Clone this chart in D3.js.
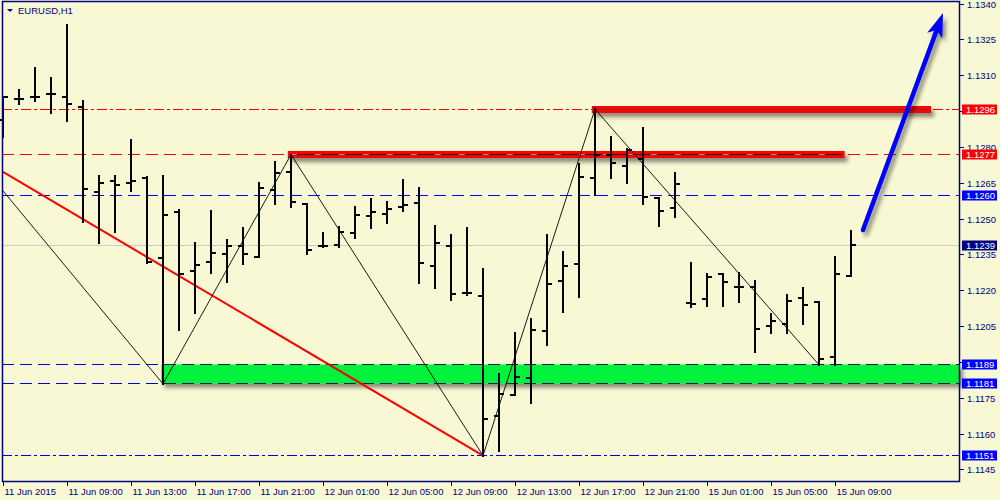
<!DOCTYPE html>
<html><head><meta charset="utf-8">
<script src="https://cdn.jsdelivr.net/npm/d3@7"></script>
<style>html,body{margin:0;padding:0;background:#f8f8d4;} svg{display:block}</style>
</head><body>
<svg id="c" width="1000" height="500"></svg>
<script>
// ---------- DATA ----------
const symbol = "EURUSD,H1";
const open  = [1.12915,1.13003,1.13011,1.13023,1.13011,1.12969,1.12613,1.12659,1.12651,1.12672,1.12337,1.12530,1.12283,1.12321,1.12354,1.12387,1.12341,1.12622,1.12697,1.12563,1.12387,1.12392,1.12442,1.12513,1.12521,1.12551,1.12567,1.12304,1.12387,1.12191,1.12178,1.11676,1.11764,1.11835,1.12032,1.12241,1.12312,1.12672,1.12768,1.12722,1.12751,1.12588,1.12546,1.12149,1.12166,1.12270,1.12216,1.12216,1.12053,1.12061,1.12170,1.12153,1.11923,1.12262];
const high  = [1.13011,1.13040,1.13132,1.13090,1.13312,1.12994,1.12680,1.12680,1.12831,1.12676,1.12680,1.12538,1.12400,1.12534,1.12413,1.12463,1.12651,1.12739,1.12770,1.12563,1.12442,1.12467,1.12551,1.12584,1.12572,1.12664,1.12630,1.12471,1.12433,1.12463,1.12291,1.11852,1.12023,1.12082,1.12433,1.12362,1.12731,1.12960,1.12844,1.12793,1.12881,1.12588,1.12693,1.12316,1.12270,1.12270,1.12274,1.12241,1.12103,1.12182,1.12212,1.12153,1.12341,1.12450];
const low   = [1.12844,1.12982,1.12994,1.12944,1.12910,1.12488,1.12400,1.12446,1.12618,1.12316,1.11810,1.12036,1.12107,1.12274,1.12237,1.12312,1.12341,1.12563,1.12551,1.12354,1.12383,1.12383,1.12421,1.12463,1.12484,1.12534,1.12233,1.12212,1.12160,1.12182,1.11510,1.11530,1.11764,1.11731,1.11973,1.12111,1.12174,1.12601,1.12672,1.12651,1.12563,1.12471,1.12509,1.12132,1.12136,1.12136,1.12153,1.11944,1.12023,1.12023,1.12061,1.11890,1.11890,1.12262];
const close = [1.13011,1.13003,1.13011,1.13023,1.12982,1.12626,1.12651,1.12643,1.12659,1.12321,1.12517,1.12270,1.12308,1.12358,1.12387,1.12354,1.12630,1.12693,1.12572,1.12371,1.12387,1.12446,1.12517,1.12530,1.12542,1.12559,1.12316,1.12400,1.12187,1.12191,1.11664,1.11768,1.11839,1.12036,1.12228,1.12304,1.12676,1.12768,1.12735,1.12789,1.12592,1.12534,1.12647,1.12145,1.12258,1.12237,1.12216,1.12040,1.12074,1.12157,1.12141,1.11915,1.12270,1.12390];

const timeTickIndex  = [0,4,8,12,16,20,24,28,32,36,40,44,48,52];
const timeTickLabels = ["11 Jun 2015","11 Jun 09:00","11 Jun 13:00","11 Jun 17:00","11 Jun 21:00","12 Jun 01:00","12 Jun 05:00","12 Jun 09:00","12 Jun 13:00","12 Jun 17:00","12 Jun 21:00","15 Jun 01:00","15 Jun 05:00","15 Jun 09:00"];
const priceTicks = [1.1340,1.1325,1.1310,1.1295,1.1280,1.1265,1.1250,1.1235,1.1220,1.1205,1.1190,1.1175,1.1160,1.1145];

const levelPrices = [1.1296,1.1277,1.1260,1.1239,1.1189,1.1181,1.1151];

const zigzagIndex = [0,10,18,30,37,51];
const zigzagPrice = [1.12618,1.1181,1.1277,1.1151,1.1296,1.1189];

const trendIndex = [0,30];
const trendPrice = [1.12697,1.1151];

const zoneIndex = [9.9,60];          // green support zone
const zonePrice = [1.1181,1.1189];
const resistIndex = [[17.8,52.6],[36.8,58.0]];
const resistPrice = [1.1277,1.1296];

const arrowIndex = [53.75,58.75];
const arrowPrice = [1.12454,1.13362];

// ---------- LAYOUT / STYLE ----------
const W=1000,H=500, L=2, R=960, T=1, B=482;
const axisCol="#000080", font="Liberation Sans, Arial, sans-serif";
const svg=d3.select("#c");
const x=d3.scaleLinear().domain([0,53]).range([3,851]);
const y=d3.scaleLinear().domain([1.1140,1.1340]).range([481.85,4.01]);
const yl=p=>Math.floor(y(p))+0.5;      // pixel-row centre for 1px lines
const yr=p=>Math.round(y(p));          // row edge for 2px marks

const defs=svg.append("defs");
const f=defs.append("filter").attr("id","sh").attr("x","-20%").attr("y","-60%").attr("width","140%").attr("height","320%");
f.append("feDropShadow").attr("dx",3).attr("dy",4).attr("stdDeviation",2).attr("flood-color","#000").attr("flood-opacity",0.45);

svg.append("rect").attr("width",W).attr("height",H).attr("fill","#f8f8d4");

const styles=[
  {c:"#ff0000",d:"10,3,3,3",bg:"#ff0000"},
  {c:"#ff0000",d:"12,6",bg:"#ff0000"},
  {c:"#0000ff",d:"12,6",bg:"#0000ff"},
  {c:"#cccccc",d:"none",bg:"#000080"},
  {c:"#0000dd",d:"12,6",bg:"#0000ff"},
  {c:"#0000dd",d:"12,6",bg:"#0000ff"},
  {c:"#0000dd",d:"10,3,3,3",bg:"#0000ff"}
];
const g=svg.append("g");
// horizontal level lines
levelPrices.forEach((p,i)=>{
  const s=styles[i];
  g.append("line").attr("x1",L).attr("x2",R).attr("y1",yl(p)).attr("y2",yl(p))
   .attr("shape-rendering","crispEdges")
   .style("stroke",s.c).style("stroke-width","1px").style("stroke-dasharray",s.d);
});

// green zone
const zx0=x(zoneIndex[0]), zx1=Math.min(R,x(zoneIndex[1]));
g.append("rect").attr("x",zx0).attr("y",yl(zonePrice[1]))
 .attr("width",zx1-zx0).attr("height",yl(zonePrice[0])-yl(zonePrice[1]))
 .attr("fill","#00f23e").attr("filter","url(#sh)");
zonePrice.forEach(p=>{
  g.append("line").attr("x1",zx0).attr("x2",zx1).attr("y1",yl(p)).attr("y2",yl(p))
   .attr("shape-rendering","crispEdges")
   .style("stroke","#1c1c50").style("stroke-width","1px").style("stroke-dasharray","12,6")
   .style("stroke-dashoffset",(zx0-L)%18);
});

// resistance rectangles
resistPrice.forEach((p,i)=>{
  const x0=x(resistIndex[i][0]), x1=Math.min(R,x(resistIndex[i][1])), yy=yl(p);
  g.append("rect").attr("x",x0).attr("y",yy-3.5).attr("width",x1-x0).attr("height",7)
   .attr("fill","#ff0000").attr("filter","url(#sh)");
  g.append("line").attr("x1",x0+3).attr("x2",x1-3).attr("y1",yy).attr("y2",yy)
   .style("stroke",i===0?"#202020":"#8a2a2a").style("stroke-width","1px");
  if(i===0) g.append("line").attr("x1",x0+3).attr("x2",x1-3).attr("y1",yy).attr("y2",yy)
   .style("stroke","#909090").style("stroke-width","1px").style("stroke-dasharray","6,18");
});

// red trendline
g.append("line").attr("x1",x(trendIndex[0])).attr("y1",y(trendPrice[0]))
 .attr("x2",x(trendIndex[1])).attr("y2",y(trendPrice[1]))
 .style("stroke","#ff0000").style("stroke-width","2px");

// zigzag
g.append("path").datum(zigzagIndex.map((d,i)=>[x(d),y(zigzagPrice[i])]))
 .attr("d",d3.line()).attr("fill","none").style("stroke","#000").style("stroke-width","0.9px");

// OHLC bars
const bars=g.append("g").style("stroke","#000").style("stroke-width","2px").attr("shape-rendering","crispEdges");
open.forEach((o,i)=>{
  const xi=x(i);
  bars.append("line").attr("x1",xi).attr("x2",xi).attr("y1",yr(high[i])-1).attr("y2",yr(low[i])+1);
  bars.append("line").attr("x1",xi-5).attr("x2",xi).attr("y1",yr(o)).attr("y2",yr(o));
  bars.append("line").attr("x1",xi).attr("x2",xi+5).attr("y1",yr(close[i])).attr("y2",yr(close[i]));
});

// blue arrow
(function(){
  const x0=x(arrowIndex[0]), y0=y(arrowPrice[0]), x1=x(arrowIndex[1]), y1=y(arrowPrice[1]);
  const ang=Math.atan2(y1-y0,x1-x0), hl=24, hw=8;
  const bx=x1-hl*Math.cos(ang), by=y1-hl*Math.sin(ang);
  const px=-Math.sin(ang), py=Math.cos(ang);
  const ag=svg.append("g").attr("filter","url(#sh)");
  ag.append("line").attr("x1",x0).attr("y1",y0).attr("x2",bx+4*Math.cos(ang)).attr("y2",by+4*Math.sin(ang))
    .style("stroke","#0000ff").style("stroke-width","4.5px").style("stroke-linecap","round");
  ag.append("path").attr("d",`M${x1},${y1}L${bx+hw*px},${by+hw*py}L${bx+6*Math.cos(ang)},${by+6*Math.sin(ang)}L${bx-hw*px},${by-hw*py}Z`)
    .attr("fill","#0000ff");
})();

// frame
svg.append("rect").attr("x",L+0.5).attr("y",T+0.5).attr("width",R-L-1).attr("height",B-T-1)
  .attr("fill","none").style("stroke",axisCol).style("stroke-width","1.5px");

// right price axis (labels hidden by a level tag are not drawn)
priceTicks.forEach(p=>{
  const yy=yl(p);
  svg.append("line").attr("x1",R).attr("x2",R+4).attr("y1",yy).attr("y2",yy).style("stroke",axisCol);
  if(levelPrices.some(l=>Math.abs(l-p)<0.00015)) return;
  svg.append("text").attr("x",967).attr("y",yy).attr("dy","0.36em").attr("font-family",font).attr("font-size",9.5)
    .attr("fill",axisCol).text(p.toFixed(4));
});
// level tags
levelPrices.forEach((p,i)=>{
  const s=styles[i], yy=yl(p);
  svg.append("rect").attr("x",962).attr("y",yy-5).attr("width",35).attr("height",10).attr("fill",s.bg);
  svg.append("text").attr("x",966).attr("y",yy).attr("dy","0.36em").attr("font-family",font).attr("font-size",9.5)
    .attr("fill","#fff").text(p.toFixed(4));
});

// bottom time axis
timeTickIndex.forEach((ti,k)=>{
  const xi=Math.round(x(ti))+0.5;
  svg.append("line").attr("x1",xi).attr("x2",xi).attr("y1",B).attr("y2",B+4).style("stroke",axisCol);
  svg.append("text").attr("x",xi+1).attr("y",495).attr("font-family",font).attr("font-size",9.5)
    .attr("fill",axisCol).text(timeTickLabels[k]);
});

// title
svg.append("path").attr("d","M7,9L13,9L10,12Z").attr("fill",axisCol);
svg.append("text").attr("x",18).attr("y",14).attr("font-family",font).attr("font-size",9.5)
  .attr("fill",axisCol).text(symbol);
</script>
</body></html>
